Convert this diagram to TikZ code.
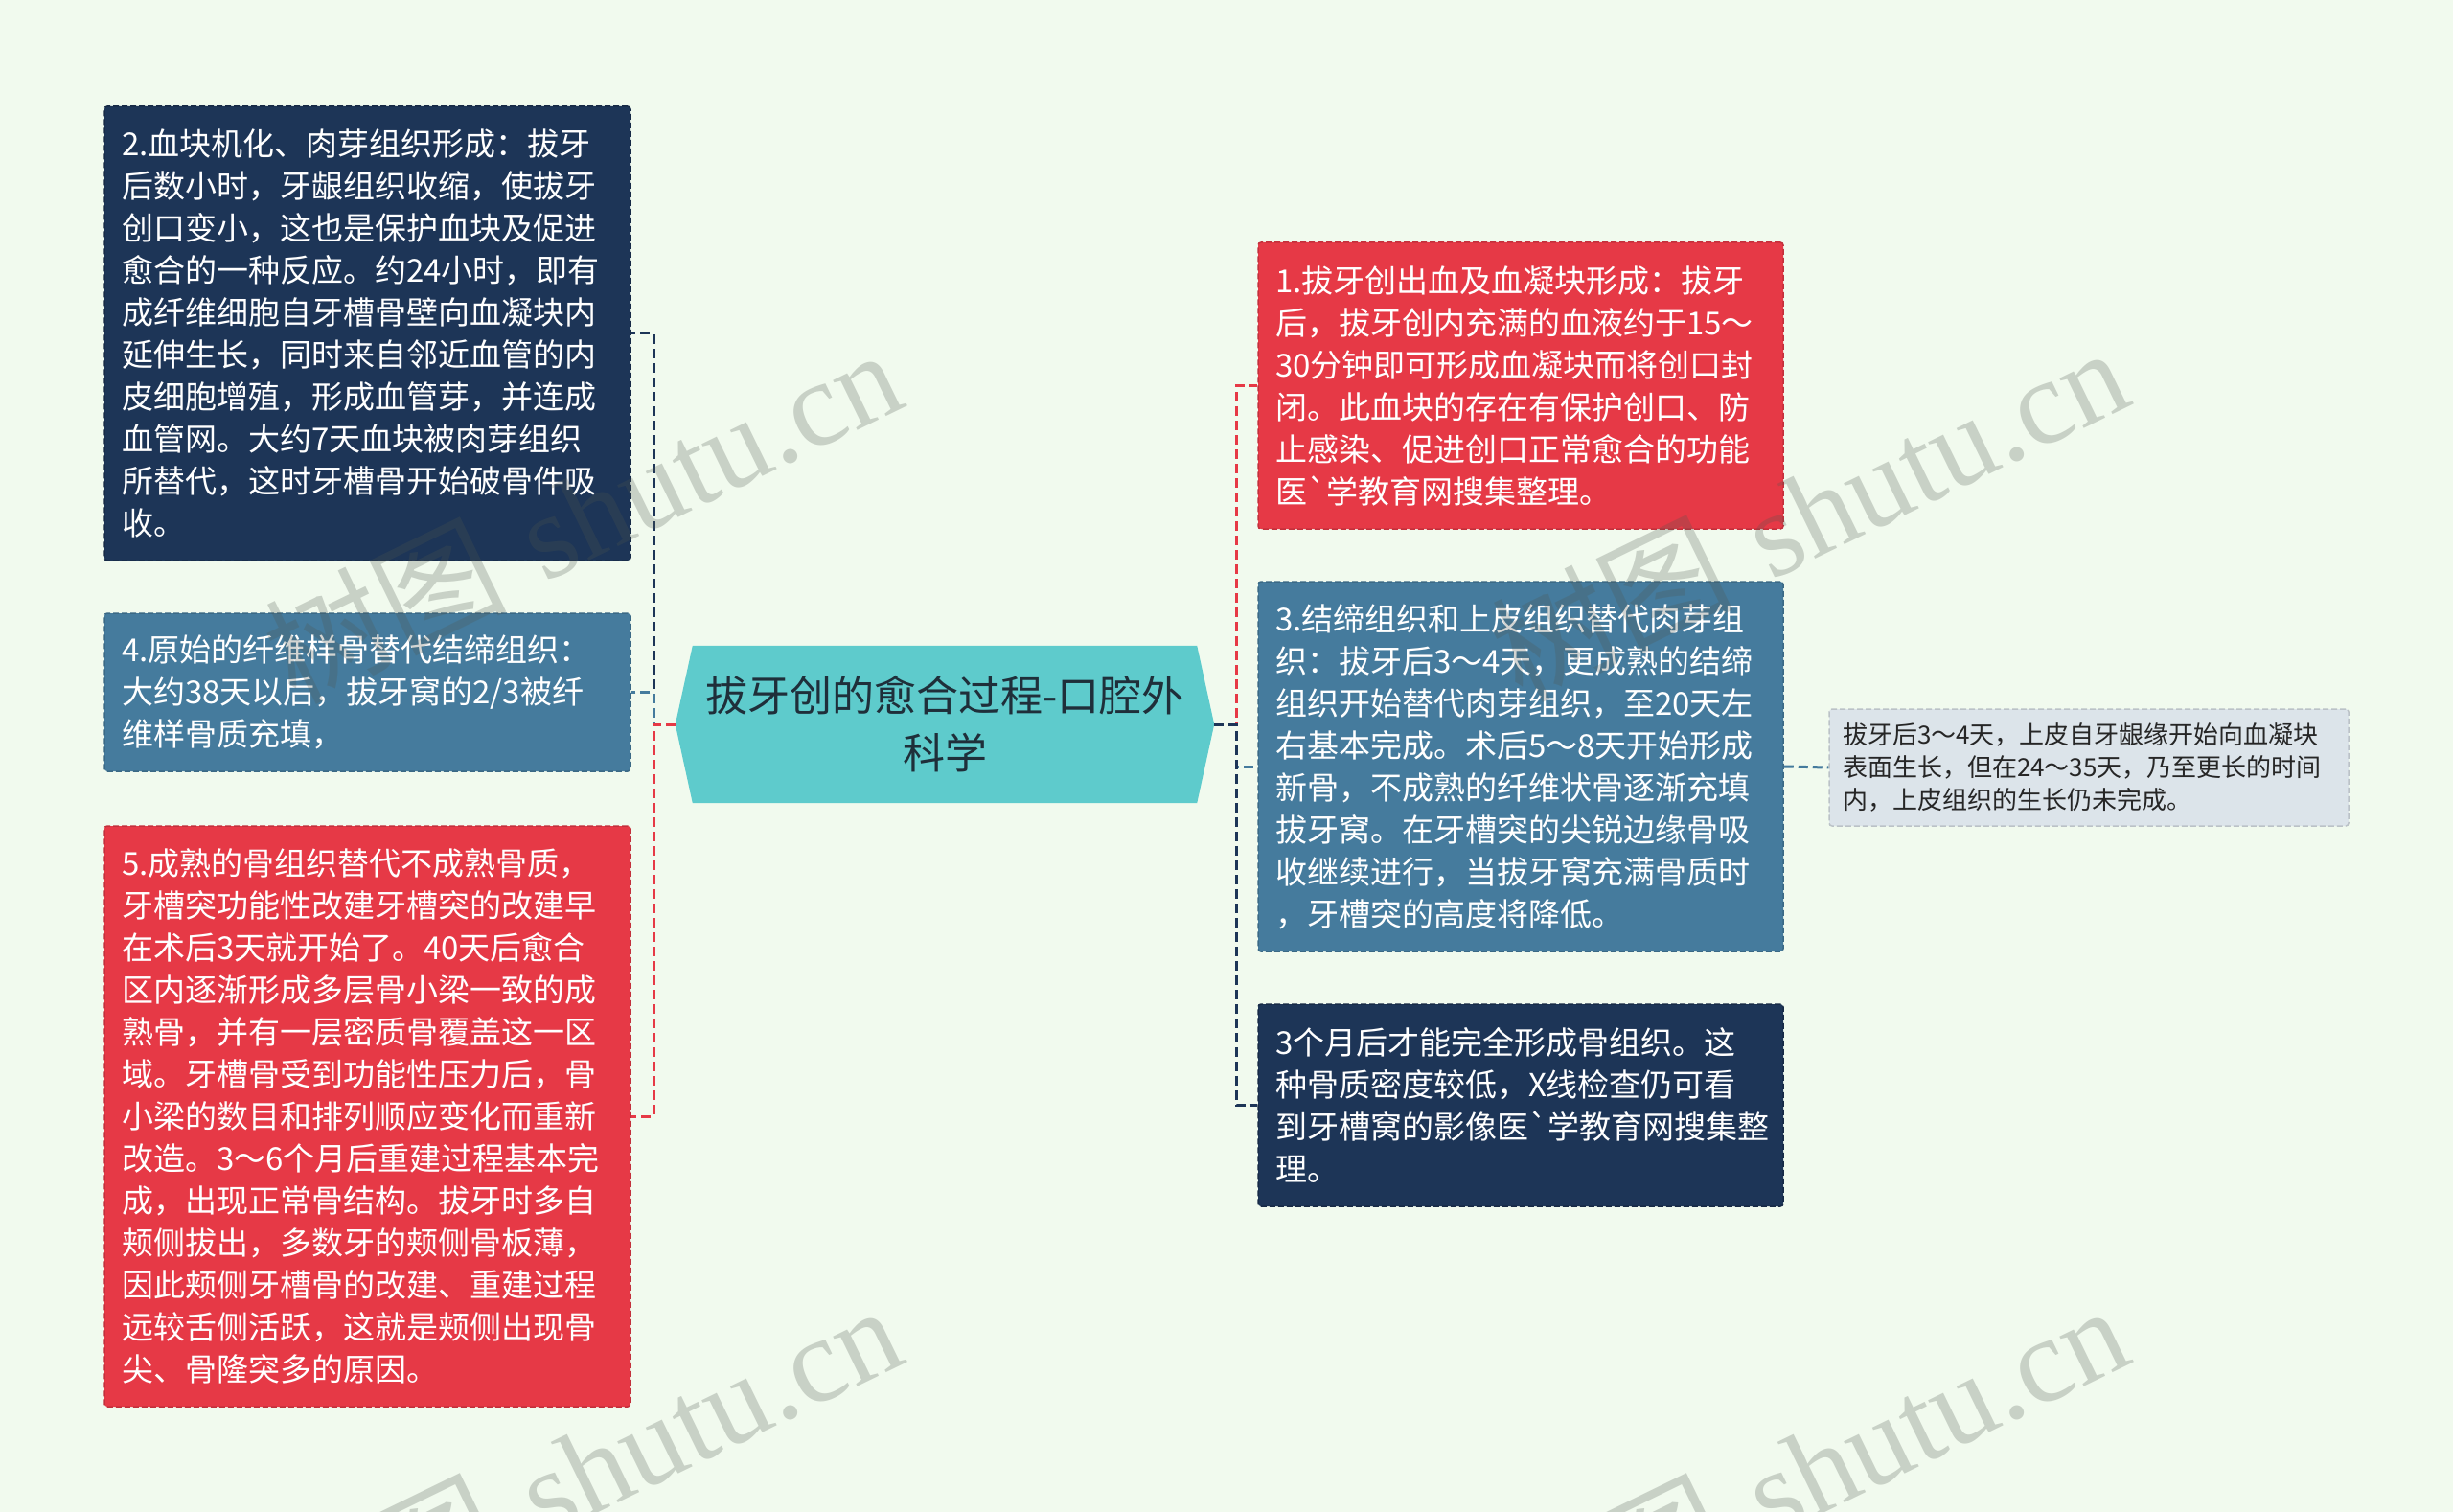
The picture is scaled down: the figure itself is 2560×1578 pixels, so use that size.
\documentclass[tikz,border=0pt]{standalone}
\usepackage{fontspec}
\newfontfamily\cjk{Noto Sans CJK SC}
\newfontfamily\wmserif{Liberation Serif}
\usetikzlibrary{backgrounds}
\definecolor{bgc}{HTML}{F1FAEE}
\definecolor{navyc}{HTML}{1D3557}
\definecolor{steelc}{HTML}{457B9D}
\definecolor{redc}{HTML}{E63946}
\definecolor{tealc}{HTML}{5ECBCC}
\definecolor{palec}{HTML}{DCE4EA}
\definecolor{titlec}{HTML}{1F2F3A}
\definecolor{wmc}{HTML}{4F574F}
\begin{document}
\begin{tikzpicture}[x=1pt,y=-1pt,
  box/.style={rectangle, rounded corners=3pt, align=left, inner xsep=18pt, inner ysep=0pt,
    text width=513pt, minimum width=549pt,
    font=\cjk\fontsize{33pt}{44pt}\selectfont, text=white,
    line width=1.5pt, dash pattern=on 6pt off 3pt},
  smallbox/.style={rectangle, rounded corners=3pt, align=left, inner xsep=14pt, inner ysep=0pt,
    text width=514pt, minimum width=542pt,
    font=\cjk\fontsize{26pt}{34pt}\selectfont, text=black!85,
    line width=1.5pt, dash pattern=on 6pt off 3pt},
  conn/.style={line width=3pt, dash pattern=on 10pt off 5pt},
  wm/.style={text=wmc, opacity=0.25, inner sep=0pt,
    font=\fontsize{126pt}{126pt}\selectfont}
]
\useasboundingbox (0,0) rectangle (2560,1578);

% centre node
\node[font=\cjk\fontsize{44pt}{60pt}\selectfont, text=titlec, align=center,
      minimum width=562pt, minimum height=164pt, inner sep=0pt] (c) at (986,756)
      {拔牙创的愈合过程-口腔外\\科学};

\begin{pgfonlayer}{background}
  \fill[bgc] (0,0) rectangle (2560,1578);
  \fill[tealc] (c.west) -- ([xshift=18pt]c.north west) -- ([xshift=-18pt]c.north east)
     -- (c.east) -- ([xshift=-18pt]c.south east) -- ([xshift=18pt]c.south west) -- cycle;
\end{pgfonlayer}

% left boxes
\node[box, fill=navyc, draw=navyc!80!black, minimum height=474pt] (b2) at (383.5,348)
{2.血块机化、肉芽组织形成：拔牙\\
后数小时，牙龈组织收缩，使拔牙\\
创口变小，这也是保护血块及促进\\
愈合的一种反应。约24小时，即有\\
成纤维细胞自牙槽骨壁向血凝块内\\
延伸生长，同时来自邻近血管的内\\
皮细胞增殖，形成血管芽，并连成\\
血管网。大约7天血块被肉芽组织\\
所替代，这时牙槽骨开始破骨件吸\\
收。};

\node[box, fill=steelc, draw=steelc!85!black, minimum height=165pt] (b4) at (383.5,722.5)
{4.原始的纤维样骨替代结缔组织：\\
大约38天以后，拔牙窝的2/3被纤\\
维样骨质充填，};

\node[box, fill=redc, draw=redc!85!black, minimum height=606pt] (b5) at (383.5,1165)
{5.成熟的骨组织替代不成熟骨质，\\
牙槽突功能性改建牙槽突的改建早\\
在术后3天就开始了。40天后愈合\\
区内逐渐形成多层骨小梁一致的成\\
熟骨，并有一层密质骨覆盖这一区\\
域。牙槽骨受到功能性压力后，骨\\
小梁的数目和排列顺应变化而重新\\
改造。3～6个月后重建过程基本完\\
成，出现正常骨结构。拔牙时多自\\
颊侧拔出，多数牙的颊侧骨板薄，\\
因此颊侧牙槽骨的改建、重建过程\\
远较舌侧活跃，这就是颊侧出现骨\\
尖、骨隆突多的原因。};

% right boxes
\node[box, fill=redc, draw=redc!85!black, minimum width=548pt, text width=512pt, minimum height=299pt] (b1) at (1587,402.5)
{1.拔牙创出血及血凝块形成：拔牙\\
后，拔牙创内充满的血液约于15～\\
30分钟即可形成血凝块而将创口封\\
闭。此血块的存在有保护创口、防\\
止感染、促进创口正常愈合的功能\\
医`学教育网搜集整理。};

\node[box, fill=steelc, draw=steelc!85!black, minimum width=548pt, text width=512pt, minimum height=386pt] (b3) at (1587,800)
{3.结缔组织和上皮组织替代肉芽组\\
织：拔牙后3～4天，更成熟的结缔\\
组织开始替代肉芽组织，至20天左\\
右基本完成。术后5～8天开始形成\\
新骨，不成熟的纤维状骨逐渐充填\\
拔牙窝。在牙槽突的尖锐边缘骨吸\\
收继续进行，当拔牙窝充满骨质时\\
，牙槽突的高度将降低。};

\node[box, fill=navyc, draw=navyc!80!black, minimum width=548pt, text width=512pt, minimum height=211pt] (b6) at (1587,1153.5)
{3个月后才能完全形成骨组织。这\\
种骨质密度较低，X线检查仍可看\\
到牙槽窝的影像医`学教育网搜集整\\
理。};

\node[smallbox, fill=palec, draw=palec!85!black, minimum height=122pt] (b7) at (2180,801)
{拔牙后3～4天，上皮自牙龈缘开始向血凝块\\
表面生长，但在24～35天，乃至更长的时间\\
内，上皮组织的生长仍未完成。};

% trunk points
\coordinate (lt) at (682,756);
\coordinate (rt) at (1290,756);

% connectors
\draw[conn, navyc]  (c.west) -- (lt) |- (b2.east);
\draw[conn, steelc] (c.west) -- (lt) |- (b4.east);
\draw[conn, redc]   (c.west) -- (lt) |- (b5.east);
\draw[conn, redc]   (c.east) -- (rt) |- (b1.west);
\draw[conn, steelc] (c.east) -- (rt) |- (b3.west);
\draw[conn, navyc]  (c.east) -- (rt) |- (b6.west);
\draw[conn, steelc] (b3.east) -- (b7.west);

% watermarks
\node[wm, rotate=26] (w1) at (607,536) {{\cjk 树图} {\wmserif shutu.cn}};
\node[wm, rotate=26] (w2) at (1887,534) {{\cjk 树图} {\wmserif shutu.cn}};
\node[wm, rotate=26] (w3) at (607,1534) {{\cjk 树图} {\wmserif shutu.cn}};
\node[wm, rotate=26] (w4) at (1887,1534) {{\cjk 树图} {\wmserif shutu.cn}};
\end{tikzpicture}
\end{document}
